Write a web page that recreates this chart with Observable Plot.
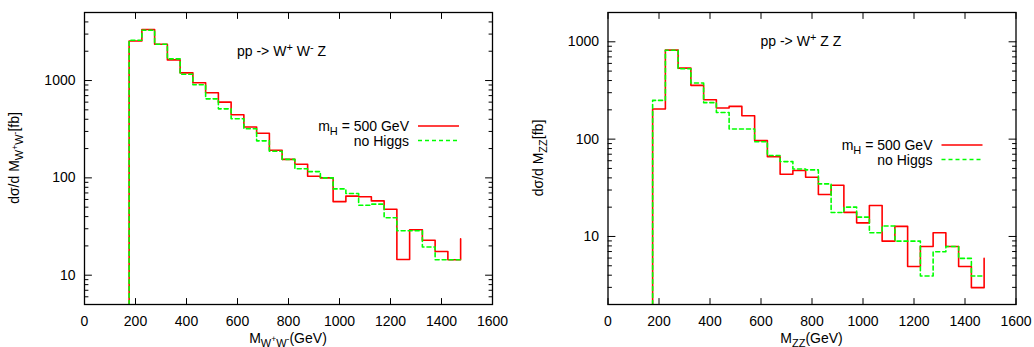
<!DOCTYPE html>
<html><head><meta charset="utf-8">
<script src="https://cdn.jsdelivr.net/npm/d3@7"></script>
<script src="https://cdn.jsdelivr.net/npm/@observablehq/plot@0.6"></script>
<style>
body{margin:0;background:#fff}
#wrap{display:flex;width:1034px;height:347px}
svg{display:block}
</style>
</head><body><div id="wrap"></div>
<script>
// Left edges of the 50 GeV mass bins (last entry = right edge of final bin)
const massBins = [175,225,275,325,375,425,475,525,575,625,675,725,775,825,875,925,975,1025,1075,1125,1175,1225,1275,1325,1375,1425,1475];

// pp -> W+ W- Z : dσ/dM_{W+W-} [fb]
const wwzHiggs   = [2550,3350,2360,1630,1200,950,750,600,445,333,287,192,155,138,104,100,57,65,64,58,47.6,14.5,29.3,22.9,17.5,14.4,23.6];
const wwzNoHiggs = [2590,3290,2360,1670,1160,905,648,512,405,320,240,188,155,124,116,100,77,69,52.4,53.7,38.9,28.6,28.6,19.5,14.4,14.4,14.4];

// pp -> W+ Z Z : dσ/dM_{ZZ} [fb]
const wzzHiggs   = [204,822,537,357,254,209,217,174,96.6,66,43.5,47.6,40.6,27,33.6,17.7,13.8,20.8,8.95,12.7,4.92,7.9,10.9,7.9,4.92,2.98,5.95];
const wzzNoHiggs = [250,820,528,377,237,188,127,127,94,68,58.8,49.4,48.3,34.7,17.6,20,15.8,10.9,12.8,8.95,8.95,3.92,6.97,7.9,5.95,3.92,3.92];

const xTicks = [0,200,400,600,800,1000,1200,1400,1600];
const yMajorTicks = [10,100,1000];
const wwzMinorTicks = [6,7,8,9,20,30,40,50,60,70,80,90,200,300,400,500,600,700,800,900,2000,3000,4000];
const wzzMinorTicks = [3,4,5,6,7,8,9,20,30,40,50,60,70,80,90,200,300,400,500,600,700,800,900];
const wwzYDomain = [5,5000];
const wzzYDomain = [2,2000];

const legendLabels = ["= 500 GeV", "no Higgs"];

const FONT = "'Liberation Sans', Arial, Helvetica, sans-serif";
const FS = 14, SUB = 11, SUBSUP = 8.5;

function rich(g, x, y, segs, {anchor = "start", rotate = 0} = {}) {
  const t = g.append("text").attr("x", x).attr("y", y)
    .attr("text-anchor", anchor).attr("fill", "#000")
    .attr("font-family", FONT).attr("font-size", FS);
  if (rotate) t.attr("transform", `rotate(${rotate},${x},${y})`);
  let prev = 0;
  for (const [s, size, shift] of segs) {
    t.append("tspan").attr("font-size", size).attr("dy", shift - prev).text(s);
    prev = shift;
  }
  return t;
}

function panel(cfg) {
  const {higgs, noHiggs, yDomain, minorTicks, marginLeft, marginRight, titleSegs, titleY,
         subSegs, ylabelX, legendY} = cfg;
  const width = 517, height = 347, marginTop = 12, marginBottom = 43;
  const rows = (vals) => [{x: massBins[0], y: yDomain[0]}, ...massBins.map((x, i) => ({x, y: vals[i]}))];
  const tickShape = {draw(ctx, l) { ctx.moveTo(0, 0); ctx.lineTo(0, -l); }};
  const vec = (data, ch, frameAnchor, rotate, length) =>
    Plot.vector(data, {[ch]: d => d, frameAnchor, rotate, length, anchor: "start",
      shape: tickShape, stroke: "#000", strokeWidth: 1});
  const svg = Plot.plot({
    width, height, marginTop, marginBottom, marginLeft, marginRight,
    x: {domain: [0, 1600]},
    y: {type: "log", domain: yDomain},
    style: {fontFamily: FONT, fontSize: FS + "px", background: "#fff", color: "#000", overflow: "visible"},
    marks: [
      Plot.line(rows(higgs), {x: "x", y: "y", curve: "step-after", stroke: "#ff0000", strokeWidth: 1.6, clip: true}),
      Plot.line(rows(noHiggs), {x: "x", y: "y", curve: "step-after", stroke: "#00ff00", strokeWidth: 1.6, strokeDasharray: "4,3", clip: true}),
      vec(xTicks, "x", "bottom", 0, 6),
      vec(xTicks, "x", "top", 180, 6),
      vec(yMajorTicks, "y", "left", 90, 7),
      vec(yMajorTicks, "y", "right", -90, 7),
      vec(minorTicks, "y", "left", 90, 3.5),
      vec(minorTicks, "y", "right", -90, 3.5),
      Plot.axisX(xTicks, {tickSize: 0, tickPadding: 12, tickFormat: d => String(d), label: null}),
      Plot.axisY(yMajorTicks, {tickSize: 0, tickPadding: 9, tickFormat: d => String(d), label: null}),
      Plot.frame({stroke: "#000", strokeWidth: 1.3})
    ]
  });
  const sx = svg.scale("x"), sy = svg.scale("y");
  const g = d3.select(svg).append("g");
  const frameRight = width - marginRight;
  // title
  rich(g, sx.apply(600), sy.apply(titleY) + 5, titleSegs);
  // x label
  rich(g, (marginLeft + frameRight) / 2, 343,
       [["M", FS, 0], ...subSegs, ["(GeV)", FS, 0]], {anchor: "middle"});
  // y label
  rich(g, ylabelX, (marginTop + height - marginBottom) / 2,
       [["dσ/d M", FS, 0], ...subSegs, ["[fb]", FS, 0]], {anchor: "middle", rotate: -90});
  // legend
  const tx = frameRight - 83, l1 = frameRight - 74, l2 = frameRight - 33;
  rich(g, tx, legendY + 5, [["m", FS, 0], ["H", SUB, 4], [" " + legendLabels[0], FS, 0]], {anchor: "end"});
  rich(g, tx, legendY + 14.5 + 5, [[legendLabels[1], FS, 0]], {anchor: "end"});
  g.append("line").attr("x1", l1).attr("x2", l2).attr("y1", legendY).attr("y2", legendY)
    .attr("stroke", "#ff0000").attr("stroke-width", 1.6);
  g.append("line").attr("x1", l1).attr("x2", l2).attr("y1", legendY + 14.5).attr("y2", legendY + 14.5)
    .attr("stroke", "#00ff00").attr("stroke-width", 1.6).attr("stroke-dasharray", "4,3");
  return svg;
}

const wrap = document.getElementById("wrap");
wrap.appendChild(panel({
  higgs: wwzHiggs, noHiggs: wwzNoHiggs, yDomain: wwzYDomain, minorTicks: wwzMinorTicks,
  marginLeft: 84, marginRight: 25, titleY: 2000,
  titleSegs: [["pp -> W", FS, 0], ["+", SUB, -5], [" W", FS, 0], ["-", SUB, -5], [" Z", FS, 0]],
  subSegs: [["W", SUB, 4], ["+", SUBSUP, -1], ["W", SUB, 4], ["-", SUBSUP, -1]],
  ylabelX: 19, legendY: 126
}));
wrap.appendChild(panel({
  higgs: wzzHiggs, noHiggs: wzzNoHiggs, yDomain: wzzYDomain, minorTicks: wzzMinorTicks,
  marginLeft: 90.5, marginRight: 18.5, titleY: 1000,
  titleSegs: [["pp -> W", FS, 0], ["+", SUB, -5], [" Z Z", FS, 0]],
  subSegs: [["ZZ", SUB, 4]],
  ylabelX: 26, legendY: 145
}));
</script>
</body></html>
